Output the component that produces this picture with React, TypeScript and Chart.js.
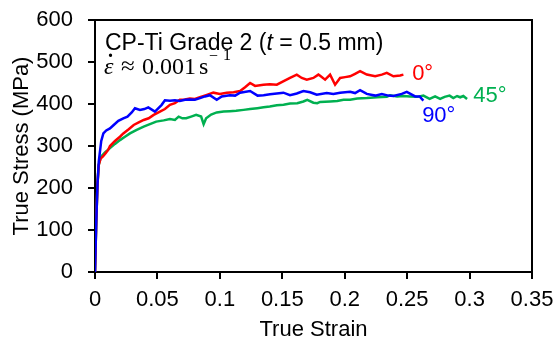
import React, { useEffect, useRef } from "react";
import { Chart, registerables } from "chart.js";

Chart.register(...registerables);

// 0° specimen
const strain0 = [0, 0.001, 0.002, 0.003, 0.0045, 0.0064, 0.0085, 0.0104, 0.012, 0.016, 0.02, 0.0227, 0.027, 0.031, 0.035, 0.039, 0.043, 0.047, 0.052, 0.056, 0.06, 0.064, 0.068, 0.072, 0.076, 0.08, 0.084, 0.089, 0.0948, 0.1, 0.1055, 0.111, 0.1162, 0.1202, 0.1242, 0.1282, 0.1349, 0.14, 0.1456, 0.1515, 0.1562, 0.1616, 0.1656, 0.1696, 0.1749, 0.1789, 0.1803, 0.1843, 0.1883, 0.1923, 0.1963, 0.2003, 0.2043, 0.2083, 0.2123, 0.2177, 0.2244, 0.2297, 0.2337, 0.239, 0.2444, 0.247];
const stress0 = [0, 120, 210, 255, 270, 275, 283, 290, 300, 312, 322, 330, 340, 350, 356, 362, 366, 374, 382, 388, 398, 402, 410, 411, 413, 412, 416, 421, 427, 424, 427, 428, 431, 440, 450, 443, 446, 447, 446, 455, 462, 470, 462, 458, 462, 470, 467, 458, 470, 446, 462, 464, 466, 472, 478, 470, 466, 470, 474, 466, 468, 470];

// 90° specimen
const strain90 = [0, 0.001, 0.002, 0.003, 0.0037, 0.005, 0.0067, 0.009, 0.012, 0.015, 0.0187, 0.0227, 0.026, 0.0294, 0.032, 0.036, 0.0395, 0.0427, 0.048, 0.0534, 0.056, 0.06, 0.064, 0.068, 0.072, 0.076, 0.08, 0.0841, 0.0881, 0.092, 0.0975, 0.1015, 0.108, 0.1122, 0.1162, 0.1242, 0.1302, 0.135, 0.1402, 0.1456, 0.1509, 0.1562, 0.1616, 0.1669, 0.1723, 0.1776, 0.1856, 0.1909, 0.1963, 0.2043, 0.2083, 0.2123, 0.2177, 0.2244, 0.2297, 0.235, 0.239, 0.2457, 0.2497, 0.2564, 0.26, 0.263];
const stress90 = [0, 120, 210, 262, 280, 312, 330, 337, 342, 350, 360, 366, 370, 380, 390, 386, 388, 392, 382, 398, 409, 408, 409, 407, 410, 411, 410, 414, 418, 421, 410, 418, 421, 420, 427, 431, 420, 421, 423, 425, 427, 421, 425, 431, 428, 422, 426, 424, 427, 429, 426, 433, 424, 420, 424, 420, 419, 424, 429, 418, 418, 408];

// 45° specimen
const strain45 = [0, 0.001, 0.002, 0.003, 0.0045, 0.0053, 0.008, 0.012, 0.016, 0.02, 0.024, 0.028, 0.033, 0.039, 0.044, 0.049, 0.055, 0.06, 0.064, 0.067, 0.07, 0.073, 0.077, 0.081, 0.085, 0.087, 0.089, 0.093, 0.0975, 0.103, 0.108, 0.113, 0.119, 0.1242, 0.13, 0.135, 0.14, 0.1456, 0.151, 0.1562, 0.162, 0.1669, 0.17, 0.1749, 0.178, 0.1803, 0.1883, 0.194, 0.199, 0.2043, 0.21, 0.2177, 0.226, 0.2337, 0.2364, 0.242, 0.247, 0.2524, 0.258, 0.263, 0.268, 0.2724, 0.2764, 0.28, 0.284, 0.287, 0.29, 0.2925, 0.295, 0.298];
const stress45 = [0, 120, 210, 255, 272, 276, 285, 295, 305, 314, 322, 330, 338, 346, 352, 358, 361, 364, 362, 370, 366, 366, 370, 374, 370, 352, 366, 375, 380, 382, 383, 384, 386, 388, 390, 392, 394, 397, 398, 401, 402, 406, 410, 403, 402, 405, 406, 407, 410, 410, 413, 414, 416, 417, 421, 418, 419, 418, 417, 420, 412, 418, 412, 417, 420, 414, 419, 416, 419, 412];

const xTickLabels = ["0", "0.05", "0.1", "0.15", "0.2", "0.25", "0.3", "0.35"];
const yTickLabels = ["0", "100", "200", "300", "400", "500", "600"];

const seriesNames = ["90°", "0°", "45°"];
const seriesColors = ["#0000FF", "#FF0000", "#00B050"];
// label anchors in data units (strain, stress)
const labelAnchors = [
  [0.262, 356],
  [0.254, 458],
  [0.303, 404],
];

const toPoints = (xs: number[], ys: number[]) => xs.map((x, i) => ({ x, y: ys[i] }));

const SANS = "Arial, 'Liberation Sans', sans-serif";
const SERIF = "'Liberation Serif', 'Times New Roman', serif";

const decorPlugin = {
  id: "decor",
  beforeDatasetsDraw(chart: any) {
    const { ctx, chartArea } = chart;
    ctx.save();
    ctx.strokeStyle = "#000";
    ctx.lineWidth = 2;
    ctx.strokeRect(chartArea.left, chartArea.top, chartArea.right - chartArea.left, chartArea.bottom - chartArea.top);
    ctx.restore();
  },
  afterDraw(chart: any) {
    const { ctx, chartArea, scales } = chart;
    ctx.save();
    ctx.textBaseline = "alphabetic";
    ctx.textAlign = "left";
    // series labels
    ctx.font = `22px ${SANS}`;
    seriesNames.forEach((name, i) => {
      ctx.fillStyle = seriesColors[i];
      const px = scales.x.getPixelForValue(labelAnchors[i][0]);
      const py = scales.y.getPixelForValue(labelAnchors[i][1]);
      ctx.fillText(name, px, py);
    });
    // title line 1
    ctx.fillStyle = "#000";
    let x = chartArea.left + 10;
    const y1 = chartArea.top + 30;
    const parts: [string, string][] = [
      ["CP-Ti Grade 2 (", `23px ${SANS}`],
      ["t", `italic 23px ${SANS}`],
      [" = 0.5 mm)", `23px ${SANS}`],
    ];
    parts.forEach(([t, f]) => {
      ctx.font = f;
      ctx.fillText(t, x, y1);
      x += ctx.measureText(t).width;
    });
    // title line 2 (strain rate)
    const y2 = chartArea.top + 54;
    const l = chartArea.left;
    ctx.font = `italic 24px ${SERIF}`;
    ctx.fillText("ε", l + 9, y2);
    ctx.font = `bold 20px ${SERIF}`;
    ctx.textAlign = "center";
    ctx.fillText(".", l + 15.5, y2 - 17);
    ctx.textAlign = "left";
    ctx.font = `25px ${SERIF}`;
    ctx.fillText("≈", l + 26, y2);
    ctx.font = `24px ${SERIF}`;
    ctx.fillText("0.001", l + 47, y2);
    ctx.fillText("s", l + 104, y2);
    ctx.font = `16px ${SERIF}`;
    ctx.fillText("−", l + 114, y2 - 13);
    ctx.fillText("1", l + 128, y2 - 14);
    ctx.restore();
  },
};

export default function App() {
  const ref = useRef<HTMLCanvasElement | null>(null);
  useEffect(() => {
    if (!ref.current) return;
    const xs = [strain90, strain0, strain45];
    const ys = [stress90, stress0, stress45];
    const chart = new Chart(ref.current, {
      type: "line",
      data: {
        datasets: seriesNames.map((n, i) => ({
          label: n,
          data: toPoints(xs[i], ys[i]),
          borderColor: seriesColors[i],
          backgroundColor: seriesColors[i],
          borderWidth: 2.5,
          pointRadius: 0,
          tension: 0,
          fill: false,
        })),
      },
      options: {
        responsive: false,
        animation: false,
        layout: { padding: { top: 20, right: 26, left: 0, bottom: 0 } },
        plugins: { legend: { display: false }, tooltip: { enabled: false } },
        scales: {
          x: {
            type: "linear",
            min: 0,
            max: 0.35,
            afterFit: (s: any) => {
              s.height = 71;
              s.paddingLeft = 0;
              s.paddingRight = 0;
            },
            afterBuildTicks: (s: any) => {
              s.ticks = xTickLabels.map((t) => ({ value: parseFloat(t) }));
            },
            ticks: {
              autoSkip: false,
              maxRotation: 0,
              padding: 8,
              color: "#000",
              font: { family: SANS, size: 22 },
              callback: (_v: any, i: number) => xTickLabels[i],
            },
            grid: { drawOnChartArea: false, drawTicks: true, tickLength: 7, color: "#000", lineWidth: 2 },
            border: { display: true, color: "#000", width: 2 },
            title: {
              display: true,
              text: "True Strain",
              color: "#000",
              font: { family: SANS, size: 22, lineHeight: 1.15 },
              padding: { top: 0, bottom: 0 },
            },
          },
          y: {
            type: "linear",
            min: 0,
            max: 600,
            afterFit: (s: any) => {
              s.width = 95;
              s.paddingTop = 0;
              s.paddingBottom = 0;
            },
            afterBuildTicks: (s: any) => {
              s.ticks = yTickLabels.map((t) => ({ value: parseFloat(t) }));
            },
            ticks: {
              autoSkip: false,
              padding: 15,
              color: "#000",
              font: { family: SANS, size: 22 },
              callback: (_v: any, i: number) => yTickLabels[i],
            },
            grid: { drawOnChartArea: false, drawTicks: true, tickLength: 7, color: "#000", lineWidth: 2 },
            border: { display: true, color: "#000", width: 2 },
            title: {
              display: true,
              text: "True Stress (MPa)",
              color: "#000",
              font: { family: SANS, size: 22, lineHeight: 1.2 },
              padding: { top: 9, bottom: 0 },
            },
          },
        },
      },
      plugins: [decorPlugin],
    });
    return () => chart.destroy();
  }, []);
  return (
    <div style={{ position: "absolute", left: 0, top: 0, width: 558, height: 343, background: "#fff" }}>
      <canvas ref={ref} width={558} height={343} style={{ width: 558, height: 343, display: "block" }} />
    </div>
  );
}
